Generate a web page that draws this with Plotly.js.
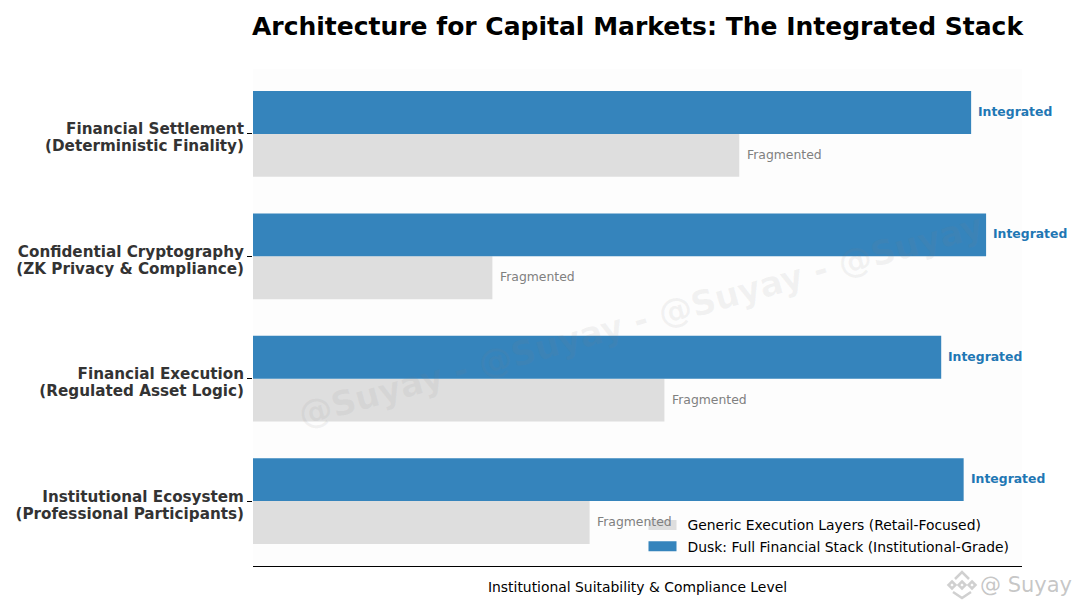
<!DOCTYPE html>
<html><head><meta charset="utf-8">
<script src="https://cdn.plot.ly/plotly-3.0.1.min.js"></script>
<style>html,body{margin:0;padding:0;background:#fff}#c{width:1080px;height:609px}</style>
</head><body><div id="c"></div>
<script>
const categories = ["Institutional Ecosystem<br>(Professional Participants)","Financial Execution<br>(Regulated Asset Logic)","Confidential Cryptography<br>(ZK Privacy & Compliance)","Financial Settlement<br>(Deterministic Finality)"];
const positions = [0,1,2,3];
const genericValues = [45,55,32,65];
const duskValues = [95,92,98,96];
const genericName = "Generic Execution Layers (Retail-Focused)";
const duskName = "Dusk: Full Financial Stack (Institutional-Grade)";
const genericLabel = "Fragmented";
const duskLabel = "Integrated";
const font = "DejaVu Sans, sans-serif";
const W = 1080, H = 609, L = 253, R = 1022, T = 69, B = 566;
const offset = 0.175;
const px = v => (v-L)/(R-L), py = v => (B-v)/(B-T);
const ann = [];
positions.forEach((p,i)=>{
  ann.push({x:genericValues[i],y:p-offset,xref:'x',yref:'y',text:genericLabel,showarrow:false,xanchor:'left',xshift:5.5,yshift:1,
    font:{family:font,size:12.4,color:'#808080'}});
  ann.push({x:duskValues[i],y:p+offset,xref:'x',yref:'y',text:'<b>'+duskLabel+'</b>',showarrow:false,xanchor:'left',xshift:5,yshift:1,
    font:{family:font,size:12.4,color:'#1f77b4'}});
});
ann.push({xref:'paper',yref:'paper',x:px(640),y:py(320),text:'<b>@Suyay - @Suyay - @Suyay - @Suyay</b>',showarrow:false,textangle:-15.6,
  font:{family:font,size:34,color:'rgba(128,128,128,0.09)'}});
ann.push({xref:'paper',yref:'paper',x:px(1074),y:py(585),xanchor:'right',yanchor:'middle',text:'@ Suyay',showarrow:false,
  font:{family:font,size:21,color:'rgba(150,150,150,0.55)'}});
const P = (x,y)=>`${px(x)},${py(y)}`;
const diamond = (cx,cy,r)=>`M${P(cx,cy-r)} L${P(cx+r,cy)} L${P(cx,cy+r)} L${P(cx-r,cy)} Z`;
const iconPaths = [diamond(962,585,3.5),diamond(952,585,3.5),diamond(972,585,3.5),
  `M${P(955,579)} L${P(962,572)} L${P(969,579)}`,`M${P(953,592)} L${P(962,598)} L${P(971,592)}`];
const shapes = iconPaths.map(path=>({type:'path',xref:'paper',yref:'paper',path,
  line:{color:'rgba(170,170,170,0.55)',width:2.5},fillcolor:'rgba(0,0,0,0)'}));
Plotly.newPlot('c',[
 {type:'bar',orientation:'h',y:positions,x:genericValues,name:genericName,marker:{color:'#dedede'}},
 {type:'bar',orientation:'h',y:positions,x:duskValues,name:duskName,marker:{color:'#3584bc'}}
],{
 width:W,height:H,paper_bgcolor:'#fff',plot_bgcolor:'#fdfdfd',
 margin:{l:L,r:W-R,t:T,b:H-B,pad:0},
 barmode:'group',bargap:0.3,bargroupgap:0,
 title:{text:'<b>Architecture for Capital Markets: The Integrated Stack</b>',font:{family:font,size:25,color:'#000'},x:(251+1024)/2/W,xanchor:'center',y:1-26/H,yanchor:'middle'},
 xaxis:{range:[0,102.8],showgrid:false,zeroline:false,showticklabels:false,ticks:'',showline:true,linecolor:'#000',linewidth:1,
   title:{text:'Institutional Suitability & Compliance Level',font:{family:font,size:13.9,color:'#000'},standoff:16}},
 yaxis:{range:[-0.53,3.53],tickmode:'array',tickvals:positions,ticktext:categories,ticks:'outside',ticklen:5,tickcolor:'#000',tickwidth:1,
   showgrid:false,zeroline:false,showline:false,tickfont:{family:font,size:15.2,color:'#333',weight:'bold'}},
 legend:{x:0.5,y:0.007,xanchor:'left',yanchor:'bottom',bgcolor:'rgba(0,0,0,0)',traceorder:'normal',itemwidth:40,font:{family:font,size:13.9,color:'#000'}},
 showlegend:true,annotations:ann,shapes:shapes
},{displayModeBar:false}).then(gd=>{
  // tighter two-line tick labels and wide legend swatches, as in the reference
  gd.querySelectorAll('.ytick text').forEach(t=>{
    const lines=t.querySelectorAll('tspan.line');
    if(lines.length===2){
      lines[1].setAttribute('dy','17px');
      lines.forEach(l=>l.setAttribute('y',parseFloat(l.getAttribute('y'))+5));
    }
  });
  gd.querySelectorAll('.legend .legendbar path, .legend .legendpoints path').forEach(p=>p.setAttribute('d','M14,5H-14V-5H14Z'));
});
</script></body></html>
